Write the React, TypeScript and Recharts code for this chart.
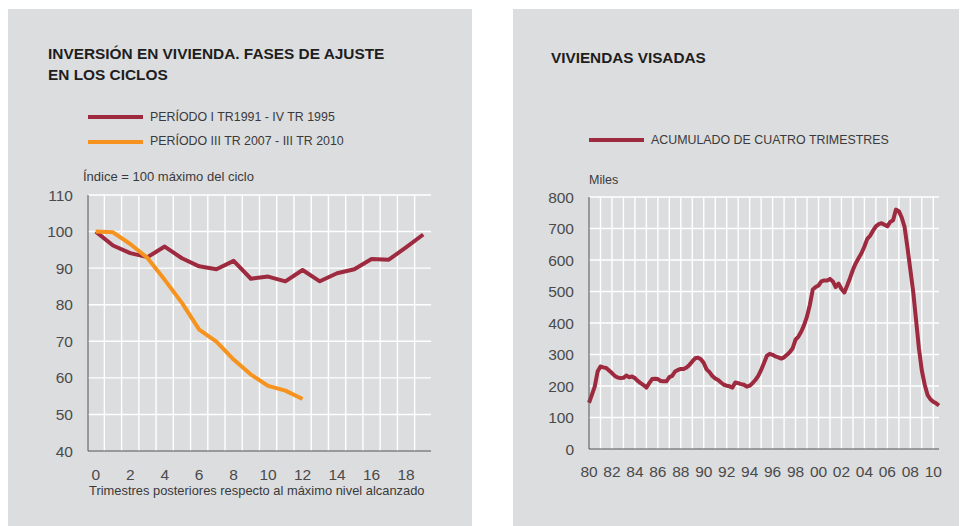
import { LineChart, Line, XAxis, YAxis } from 'recharts';

// --- left chart: inversión en vivienda (índice = 100 máximo del ciclo)
const trimestres = [0, 1, 2, 3, 4, 5, 6, 7, 8, 9, 10, 11, 12, 13, 14, 15, 16, 17, 18, 19];
const periodoI = [100, 96.2, 94.1, 93.0, 95.9, 92.7, 90.5, 89.7, 92.0, 87.1, 87.7, 86.4, 89.5, 86.4, 88.6, 89.7, 92.5, 92.3, 95.7, 99.2];
const periodoIII = [100, 99.8, 96.6, 92.8, 86.8, 80.5, 73.2, 69.9, 65.0, 60.9, 57.8, 56.5, 54.2];
const leftXTicks = [0, 2, 4, 6, 8, 10, 12, 14, 16, 18];
const leftGridX = [0.5, 1.5, 2.5, 3.5, 4.5, 5.5, 6.5, 7.5, 8.5, 9.5, 10.5, 11.5, 12.5, 13.5, 14.5, 15.5, 16.5, 17.5, 18.5];
const leftYTicks = [40, 50, 60, 70, 80, 90, 100, 110];
const leftGridY = [50, 60, 70, 80, 90, 100, 110];
const leftDomainX = [-0.45, 19.45];

// --- right chart: viviendas visadas, miles, acumulado 4 trimestres (1980 T1 .. 2010 T3)
const visadasStart = 1980;
const visadas = [
  147, 172, 198, 246,
  262, 259, 257, 249,
  241, 232, 227, 225,
  226, 233, 228, 230,
  225, 216, 209, 203,
  195, 209, 222, 223,
  222, 216, 215, 215,
  228, 232, 246, 251,
  254, 254, 259, 267,
  278, 288, 290, 285,
  273, 253, 244, 232,
  224, 219, 211, 204,
  201, 199, 195, 211,
  209, 206, 204, 198,
  201, 209, 219, 232,
  251, 273, 296, 302,
  299, 294, 291, 287,
  291, 299, 308, 320,
  347, 357, 373, 394,
  421, 458, 506, 514,
  519, 532, 535, 535,
  540, 532, 514, 525,
  508, 497, 519, 543,
  569, 590, 606, 622,
  643, 667, 677, 693,
  707, 714, 717, 712,
  707, 721, 726, 760,
  755, 735, 705, 640,
  570, 500, 410, 320,
  250, 205, 172, 158,
  150, 145, 138,
];
const rightXTicks = [1980, 1982, 1984, 1986, 1988, 1990, 1992, 1994, 1996, 1998, 2000, 2002, 2004, 2006, 2008, 2010];
const rightGridX = [1981, 1982, 1983, 1984, 1985, 1986, 1987, 1988, 1989, 1990, 1991, 1992, 1993, 1994, 1995, 1996, 1997, 1998, 1999, 2000, 2001, 2002, 2003, 2004, 2005, 2006, 2007, 2008, 2009, 2010];
const rightYTicks = [0, 100, 200, 300, 400, 500, 600, 700, 800];
const rightGridY = [100, 200, 300, 400, 500, 600, 700, 800];
const rightDomainX = [1980, 2010.5];

const RED = '#9e2a3f';
const ORANGE = '#f6931e';
const BG = '#dcdddf';
const FONT = '"Liberation Sans", Arial, sans-serif';
const tickStyle = { fontSize: 15.5, fill: '#4a4a4a', fontFamily: FONT };

const leftData = trimestres.map((t, i) => ({
  t,
  p1: periodoI[i],
  p3: i < periodoIII.length ? periodoIII[i] : null,
}));

const rightData = visadas.map((v, i) => ({ year: visadasStart + i / 4, v }));

// white grid as broken line segments (null breaks the path), placed through the axis scales
function verticalGrid(xs: number[], key: string, lo: number, hi: number) {
  return xs.flatMap((x) => [{ [key]: x, g: lo }, { [key]: x, g: hi }, { [key]: x, g: null }]);
}
function horizontalGrid(ys: number[], key: string, from: number, to: number) {
  return ys.flatMap((y) => [{ [key]: from, g: y }, { [key]: to, g: y }, { [key]: to, g: null }]);
}

const gridLineProps = {
  dataKey: 'g',
  stroke: '#ffffff',
  strokeWidth: 1.4,
  dot: false,
  activeDot: false,
  connectNulls: false,
  isAnimationActive: false,
  legendType: 'none' as const,
};

function LegendRow({ color, label, top, left }: { color: string; label: string; top: number; left: number }) {
  return (
    <div style={{ position: 'absolute', left, top: top - 8, height: 16, display: 'flex', alignItems: 'center' }}>
      <div style={{ width: 55, height: 4, background: color }} />
      <span style={{ marginLeft: 7, fontSize: 12.4, lineHeight: '12.4px', color: '#3a3a3a', whiteSpace: 'nowrap', fontFamily: FONT }}>{label}</span>
    </div>
  );
}

export default function App() {
  return (
    <div style={{ position: 'absolute', left: 0, top: 0, width: 963, height: 526, background: '#fff' }}>
      {/* left panel */}
      <div style={{ position: 'absolute', left: 8, top: 9, width: 464, height: 517, background: BG }}>
        <div style={{ position: 'absolute', left: 22, top: 171 }}>
          <LineChart width={420} height={330} data={leftData} margin={{ top: 15, right: 19, left: 8, bottom: 29 }}>
            <XAxis
              dataKey="t"
              type="number"
              domain={leftDomainX}
              ticks={leftXTicks}
              interval={0}
              height={30}
              tickLine={false}
              tickSize={6}
              tickMargin={11.5}
              axisLine={{ stroke: '#555', strokeWidth: 1 }}
              tick={tickStyle}
            />
            <YAxis
              domain={[40, 110]}
              ticks={leftYTicks}
              interval={0}
              width={50}
              tickLine={false}
              tickSize={6}
              tickMargin={9}
              axisLine={{ stroke: '#555', strokeWidth: 1 }}
              tick={tickStyle}
            />
            <Line {...gridLineProps} data={verticalGrid(leftGridX, 't', 40, 110)} />
            <Line {...gridLineProps} data={horizontalGrid(leftGridY, 't', leftDomainX[0], leftDomainX[1])} />
            <Line dataKey="p1" stroke={RED} strokeWidth={4} dot={false} isAnimationActive={false} strokeLinejoin="round" />
            <Line dataKey="p3" stroke={ORANGE} strokeWidth={4} dot={false} isAnimationActive={false} strokeLinejoin="round" />
          </LineChart>
        </div>
      </div>

      {/* right panel */}
      <div style={{ position: 'absolute', left: 513, top: 9, width: 446, height: 517, background: BG }}>
        <div style={{ position: 'absolute', left: 27, top: 171 }}>
          <LineChart width={420} height={330} data={rightData} margin={{ top: 17, right: 21, left: 14, bottom: 31 }}>
            <XAxis
              dataKey="year"
              type="number"
              domain={rightDomainX}
              ticks={rightXTicks}
              interval={0}
              height={30}
              tickLine={false}
              tickSize={6}
              tickMargin={10.7}
              axisLine={{ stroke: '#555', strokeWidth: 1 }}
              tick={tickStyle}
              tickFormatter={(y: number) => String(y % 100).padStart(2, '0')}
            />
            <YAxis
              domain={[0, 800]}
              ticks={rightYTicks}
              interval={0}
              width={35}
              tickLine={false}
              tickSize={6}
              tickMargin={9}
              axisLine={{ stroke: '#555', strokeWidth: 1 }}
              tick={tickStyle}
            />
            <Line {...gridLineProps} data={verticalGrid(rightGridX, 'year', 0, 800)} />
            <Line {...gridLineProps} data={horizontalGrid(rightGridY, 'year', rightDomainX[0], rightDomainX[1])} />
            <Line dataKey="v" stroke={RED} strokeWidth={4} dot={false} isAnimationActive={false} strokeLinejoin="round" />
          </LineChart>
        </div>
      </div>

      {/* left panel texts */}
      <div style={{ position: 'absolute', left: 48, top: 43, fontFamily: FONT, fontSize: 15.4, lineHeight: '21px', fontWeight: 'bold', color: '#1e1e1e' }}>
        INVERSIÓN EN VIVIENDA. FASES DE AJUSTE<br />EN LOS CICLOS
      </div>
      <LegendRow color={RED} label="PERÍODO I TR1991 - IV TR 1995" top={117.3} left={88} />
      <LegendRow color={ORANGE} label="PERÍODO III TR 2007 - III TR 2010" top={141.7} left={88} />
      <div style={{ position: 'absolute', left: 83, top: 170.2, fontFamily: FONT, fontSize: 13, lineHeight: '13px', color: '#3a3a3a' }}>
        Índice = 100 máximo del ciclo
      </div>
      <div style={{ position: 'absolute', left: 89, top: 485, fontFamily: FONT, fontSize: 12.9, lineHeight: '12.9px', color: '#3a3a3a', whiteSpace: 'nowrap' }}>
        Trimestres posteriores respecto al máximo nivel alcanzado
      </div>

      {/* right panel texts */}
      <div style={{ position: 'absolute', left: 551, top: 49.6, fontFamily: FONT, fontSize: 15.3, lineHeight: '15.3px', fontWeight: 'bold', color: '#1e1e1e' }}>
        VIVIENDAS VISADAS
      </div>
      <LegendRow color={RED} label="ACUMULADO DE CUATRO TRIMESTRES" top={140} left={589} />
      <div style={{ position: 'absolute', left: 589, top: 174.4, fontFamily: FONT, fontSize: 12.5, lineHeight: '12.5px', color: '#3a3a3a' }}>
        Miles
      </div>
    </div>
  );
}
